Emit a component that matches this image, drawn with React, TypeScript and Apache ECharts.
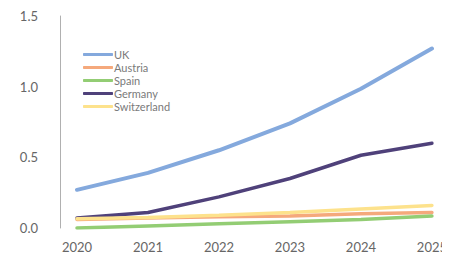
import React, { useEffect, useRef } from "react";
import * as echarts from "echarts";

const years = ["2020", "2021", "2022", "2023", "2024", "2025"];
const uk = [0.27, 0.39, 0.55, 0.74, 0.985, 1.27];
const austria = [0.06, 0.07, 0.08, 0.085, 0.1, 0.11];
const spain = [0.0, 0.015, 0.03, 0.045, 0.06, 0.085];
const germany = [0.07, 0.11, 0.22, 0.35, 0.515, 0.6];
const switzerland = [0.065, 0.075, 0.09, 0.11, 0.135, 0.16];

const names = ["UK", "Austria", "Spain", "Germany", "Switzerland"];
const colors = ["#84a9dd", "#f5a97c", "#93cd74", "#4f417a", "#fde28c"];
const widths = [4, 3.5, 3.5, 3.5, 3.5];

export default function App() {
  const ref = useRef<HTMLDivElement>(null);
  useEffect(() => {
    if (!ref.current) return;
    const chart = echarts.init(ref.current, null, { renderer: "svg" });
    const data = [uk, austria, spain, germany, switzerland];
    const font = "Lato, 'DejaVu Sans', sans-serif";
    chart.setOption({
      animation: false,
      textStyle: { fontFamily: font },
      grid: { left: 77, right: 13, top: 16, bottom: 27 },
      legend: {
        orient: "vertical",
        left: 78,
        top: 44,
        itemWidth: 30,
        itemHeight: 3,
        itemGap: 2,
        icon: "roundRect",
        textStyle: { color: "#7a7a7a", fontSize: 11, padding: [0, 0, 0, -4], fontFamily: font },
        data: names,
      },
      xAxis: {
        type: "category",
        data: years,
        boundaryGap: false,
        axisLine: { show: false },
        axisTick: { show: false },
        axisLabel: { color: "#666", fontSize: 13, margin: 12, fontFamily: font },
        splitLine: { show: false },
      },
      yAxis: {
        type: "value",
        min: 0,
        max: 1.5,
        interval: 0.5,
        offset: 17,
        axisLine: { show: true, lineStyle: { color: "#b0b0b0", width: 1 } },
        axisTick: { show: false },
        splitLine: { show: false },
        axisLabel: {
          color: "#666",
          fontSize: 13,
          margin: 22,
          fontFamily: font,
          formatter: (v: number) => v.toFixed(1),
        },
      },
      series: names.map((n, i) => ({
        name: n,
        type: "line",
        data: data[i],
        showSymbol: false,
        symbol: "none",
        z: i === 0 ? 5 : 3,
        lineStyle: { color: colors[i], width: widths[i], cap: "round" },
        itemStyle: { color: colors[i] },
      })),
    });
    return () => chart.dispose();
  }, []);
  return <div ref={ref} style={{ width: 450, height: 255, marginTop: -8, marginLeft: -8 }} />;
}
